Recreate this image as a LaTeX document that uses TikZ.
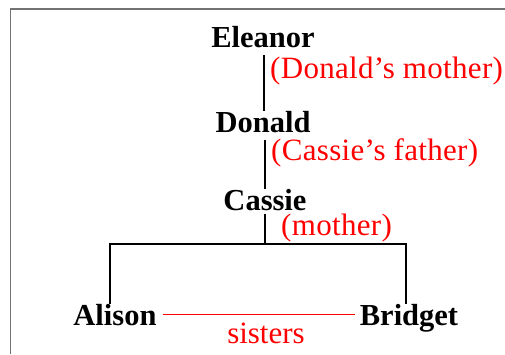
\documentclass[tikz,border=0pt]{standalone}
\usepackage{fontspec}
\setmainfont{Liberation Serif}
\newfontfamily\relfont[LetterSpace=1]{Liberation Serif}
\begin{document}
\begin{tikzpicture}[x=1pt,y=-1pt,
  person/.style={font=\fontsize{30.5}{31}\selectfont\bfseries, inner sep=0pt, anchor=base},
  rel/.style={font=\relfont\fontsize{31}{32}\selectfont, text=red, inner sep=0pt, anchor=base west},
  link/.style={draw=black, line width=1.3pt},
  rellink/.style={draw=red, line width=1.3pt},
  frame/.style={draw=gray!90!black, line width=1.6pt}]
\useasboundingbox (0,0) rectangle (505,354);
\fill[white] (0,0) rectangle (505,354);
\draw[frame] (10.5,354) -- (10.5,9) -- (505,9);
% people
\node[person] (eleanor) at (263,47) {Eleanor};
\node[person] (donald) at (263,132) {Donald};
\node[person] (cassie) at (265,210) {Cassie};
\node[person] (alison) at (115,325) {Alison};
\node[person] (bridget) at (409,325) {Bridget};
% relation labels
\node[rel] (l1) at (270,78) {(Donald’s mother)};
\node[rel] (l2) at (271,160) {(Cassie’s father)};
\node[rel] (l3) at (281,235) {(mother)};
\node[font=\fontsize{31}{32}\selectfont, text=red, inner sep=0pt, anchor=base] (l4) at (266,343) {sisters};
% connectors
\coordinate (bar) at (265,244);
\draw[link] ([xshift=1pt,yshift=-8pt]eleanor.base) -- ([xshift=1pt]donald.north);
\draw[link] ([xshift=2pt,yshift=-8pt]donald.base) -- (cassie.north);
\draw[link] ([yshift=-4pt]cassie.base) -- (bar);
\draw[link] ([xshift=-5pt]alison.north) -- ([xshift=-5pt]alison.north |- bar) -- ([xshift=-3pt]bridget.north |- bar) -- ([xshift=-3pt]bridget.north);
\draw[rellink] ([xshift=6pt]alison.east) -- ([xshift=-5pt]bridget.west |- alison.east);
\end{tikzpicture}
\end{document}
